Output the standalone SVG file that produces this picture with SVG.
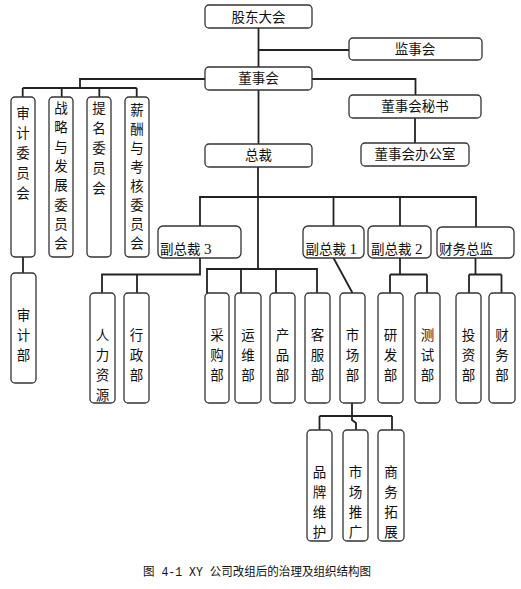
<svg xmlns="http://www.w3.org/2000/svg" width="521" height="589" viewBox="0 0 521 589">
<style>
.bx{fill:#fff;stroke:#333;stroke-width:1.3}
.t{font-family:"Liberation Serif","Noto Sans CJK SC",serif;font-size:13.5px;fill:#111}
.c{text-anchor:middle}
.d{font-size:15px}
.ln{fill:none;stroke:#222;stroke-width:1.8}
.cap{font-family:"Liberation Mono","Noto Sans CJK SC",monospace;font-size:12px;fill:#111}
</style>
<rect width="521" height="589" fill="#fff"/>
<g id="connectors" class="ln">
<path d="M258.5,28V67"/>
<path d="M258.5,50H349"/>
<path d="M205,79H80V88"/>
<path d="M22.7,88H136.7M22.7,88V97M61.7,88V97M99.3,88V97M136.7,88V97"/>
<path d="M312,79H415.5V95"/>
<path d="M415,118V143"/>
<path d="M258.5,90V144"/>
<path d="M258,167V269"/>
<path d="M200,226V197H476V227M333.5,197V226M400,197V226"/>
<path d="M207,293V269H317V293M241,269V293M276,269V293"/>
<path d="M200,258V274.5H102V293M137,274.5V293"/>
<path d="M333.5,258L352.5,293"/>
<path d="M400,258V274.5M390,274.5H427M390,274.5V293M427,274.5V293"/>
<path d="M475.5,258V274.5M469,274.5H501.5M469,274.5V293M501.5,274.5V293"/>
<path d="M352,403V420L356,423V430"/>
<path d="M319.5,416H392M319.5,416V430M392,416V430"/>
<path d="M23,257V273"/>
</g>
<g id="gudong"><rect class="bx" x="205" y="5" width="107" height="23" rx="4"/><text class="t c" x="258.5" y="21.5">股东大会</text></g>
<g id="jianshi"><rect class="bx" x="349" y="38" width="133" height="22" rx="4"/><text class="t c" x="415" y="54">监事会</text></g>
<g id="dongshi"><rect class="bx" x="205" y="67" width="107" height="23" rx="4"/><text class="t c" x="258.5" y="83">董事会</text></g>
<g id="mishu"><rect class="bx" x="349" y="95" width="132" height="23" rx="4"/><text class="t c" x="415" y="111">董事会秘书</text></g>
<g id="bangong"><rect class="bx" x="361" y="143" width="108" height="23" rx="4"/><text class="t c" x="415" y="159">董事会办公室</text></g>
<g id="zongcai"><rect class="bx" x="205" y="144" width="107" height="23" rx="4"/><text class="t c" x="258.5" y="160">总裁</text></g>
<g id="shenjiwyh"><rect class="bx" x="11" y="97" width="24" height="160" rx="4"/><text class="t c"><tspan x="23" y="118">审</tspan><tspan x="23" dy="20">计</tspan><tspan x="23" dy="20">委</tspan><tspan x="23" dy="20">员</tspan><tspan x="23" dy="20">会</tspan></text></g>
<g id="zhanlue"><rect class="bx" x="49" y="97" width="24" height="160" rx="4"/><text class="t c"><tspan x="61" y="113">战</tspan><tspan x="61" dy="19.3">略</tspan><tspan x="61" dy="19.3">与</tspan><tspan x="61" dy="19.3">发</tspan><tspan x="61" dy="19.3">展</tspan><tspan x="61" dy="19.3">委</tspan><tspan x="61" dy="19.3">员</tspan><tspan x="61" dy="19.3">会</tspan></text></g>
<g id="timing"><rect class="bx" x="87" y="97" width="24" height="160" rx="4"/><text class="t c"><tspan x="99" y="113">提</tspan><tspan x="99" dy="20">名</tspan><tspan x="99" dy="20">委</tspan><tspan x="99" dy="20">员</tspan><tspan x="99" dy="20">会</tspan></text></g>
<g id="xinchou"><rect class="bx" x="125" y="97" width="24" height="160" rx="4"/><text class="t c"><tspan x="137" y="115">薪</tspan><tspan x="137" dy="19">酬</tspan><tspan x="137" dy="19">与</tspan><tspan x="137" dy="19">考</tspan><tspan x="137" dy="19">核</tspan><tspan x="137" dy="19">委</tspan><tspan x="137" dy="19">员</tspan><tspan x="137" dy="19">会</tspan></text></g>
<g id="shenjibu"><rect class="bx" x="11" y="273" width="25" height="110" rx="4"/><text class="t c"><tspan x="23.5" y="320">审</tspan><tspan x="23.5" dy="20">计</tspan><tspan x="23.5" dy="20">部</tspan></text></g>
<g id="fzc3"><rect class="bx" x="158" y="226" width="83" height="32" rx="5"/><text class="t" x="160" y="254">副总裁 <tspan class="d">3</tspan></text></g>
<g id="fzc1"><rect class="bx" x="303" y="226" width="61" height="32" rx="5"/><text class="t" x="305.5" y="254">副总裁 <tspan class="d">1</tspan></text></g>
<g id="fzc2"><rect class="bx" x="368" y="226" width="63" height="32" rx="5"/><text class="t" x="371" y="254">副总裁 <tspan class="d">2</tspan></text></g>
<g id="caiwuzj"><rect class="bx" x="437" y="227" width="77" height="31" rx="5"/><text class="t" x="439" y="254">财务总监</text></g>
<g id="renli"><rect class="bx" x="90" y="293" width="25" height="110" rx="4"/><text class="t c"><tspan x="102.5" y="340">人</tspan><tspan x="102.5" dy="20">力</tspan><tspan x="102.5" dy="20">资</tspan><tspan x="102.5" dy="20">源</tspan></text></g>
<g id="xingzheng"><rect class="bx" x="124" y="293" width="25" height="110" rx="4"/><text class="t c"><tspan x="136.5" y="340">行</tspan><tspan x="136.5" dy="20">政</tspan><tspan x="136.5" dy="20">部</tspan></text></g>
<g id="caigou"><rect class="bx" x="205" y="293" width="24" height="110" rx="4"/><text class="t c"><tspan x="217" y="340">采</tspan><tspan x="217" dy="20">购</tspan><tspan x="217" dy="20">部</tspan></text></g>
<g id="yunwei"><rect class="bx" x="235" y="293" width="26" height="110" rx="4"/><text class="t c"><tspan x="248" y="340">运</tspan><tspan x="248" dy="20">维</tspan><tspan x="248" dy="20">部</tspan></text></g>
<g id="chanpin"><rect class="bx" x="270" y="293" width="25" height="110" rx="4"/><text class="t c"><tspan x="282.5" y="340">产</tspan><tspan x="282.5" dy="20">品</tspan><tspan x="282.5" dy="20">部</tspan></text></g>
<g id="kefu"><rect class="bx" x="305" y="293" width="25" height="110" rx="4"/><text class="t c"><tspan x="317.5" y="340">客</tspan><tspan x="317.5" dy="20">服</tspan><tspan x="317.5" dy="20">部</tspan></text></g>
<g id="shichang"><rect class="bx" x="340" y="293" width="25" height="110" rx="4"/><text class="t c"><tspan x="352.5" y="340">市</tspan><tspan x="352.5" dy="20">场</tspan><tspan x="352.5" dy="20">部</tspan></text></g>
<g id="yanfa"><rect class="bx" x="378" y="293" width="25" height="110" rx="4"/><text class="t c"><tspan x="390.5" y="340">研</tspan><tspan x="390.5" dy="20">发</tspan><tspan x="390.5" dy="20">部</tspan></text></g>
<g id="ceshi"><rect class="bx" x="415" y="293" width="25" height="110" rx="4"/><text class="t c"><tspan x="427.5" y="340">测</tspan><tspan x="427.5" dy="20">试</tspan><tspan x="427.5" dy="20">部</tspan></text></g>
<g id="touzi"><rect class="bx" x="456" y="293" width="25" height="110" rx="4"/><text class="t c"><tspan x="468.5" y="340">投</tspan><tspan x="468.5" dy="20">资</tspan><tspan x="468.5" dy="20">部</tspan></text></g>
<g id="caiwubu"><rect class="bx" x="489" y="293" width="26" height="110" rx="4"/><text class="t c"><tspan x="502" y="340">财</tspan><tspan x="502" dy="20">务</tspan><tspan x="502" dy="20">部</tspan></text></g>
<g id="pinpai"><rect class="bx" x="307" y="430" width="25" height="111" rx="4"/><text class="t c"><tspan x="319.5" y="477">品</tspan><tspan x="319.5" dy="20">牌</tspan><tspan x="319.5" dy="20">维</tspan><tspan x="319.5" dy="20">护</tspan></text></g>
<g id="tuiguang"><rect class="bx" x="343" y="430" width="25" height="111" rx="4"/><text class="t c"><tspan x="355.5" y="477">市</tspan><tspan x="355.5" dy="20">场</tspan><tspan x="355.5" dy="20">推</tspan><tspan x="355.5" dy="20">广</tspan></text></g>
<g id="tuozhan"><rect class="bx" x="378" y="430" width="26" height="111" rx="4"/><text class="t c"><tspan x="391" y="477">商</tspan><tspan x="391" dy="20">务</tspan><tspan x="391" dy="20">拓</tspan><tspan x="391" dy="20">展</tspan></text></g>
<text class="cap" x="143" y="576" textLength="228" lengthAdjust="spacingAndGlyphs">图 4-1 XY 公司改组后的治理及组织结构图</text>
</svg>
